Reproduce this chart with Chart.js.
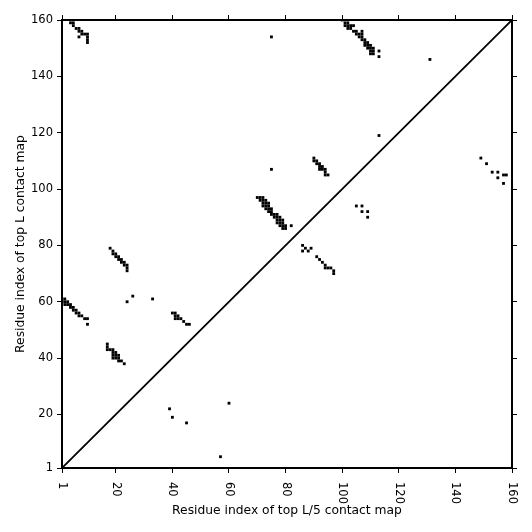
<!DOCTYPE html>
<html>
<head>
<meta charset="utf-8">
<script src="https://cdn.jsdelivr.net/npm/chart.js@4"></script>
<style>
    html, body { margin: 0; padding: 0; background: #fff; }
    #wrap { width: 532px; height: 532px; }
</style>
</head>
<body>
<div id="wrap"><canvas id="contactMap"></canvas></div>
<script>
// residue pairs above the diagonal
const upperI = [4, 5, 5, 6, 7, 7, 8, 7, 8, 9, 10, 10, 10, 10,
    75,
    100, 101, 102, 101, 102, 103, 104, 102, 103, 104, 105, 105, 106, 107, 106, 107, 107, 108, 108, 109, 108, 109, 110, 109, 110, 111, 110, 111, 110, 111, 113, 113, 107,
    131, 113,
    149, 151, 153, 155, 155, 157, 158, 157,
    70, 71, 72, 71, 72, 73, 72, 73, 74, 72, 73, 74, 73, 74, 75, 74, 75, 75, 76, 77, 76, 77, 78, 77, 78, 79, 77, 78, 79, 78, 79, 80, 79, 80, 82, 75,
    90, 90, 91, 91, 92, 92, 93, 92, 93, 94, 94, 94, 95,
    105, 107, 107, 109, 109]
const upperJ = [159, 158, 159, 157, 157, 156, 156, 154, 155, 155, 155, 154, 153, 152,
    154,
    160, 159, 159, 158, 158, 158, 158, 157, 157, 156, 156, 155, 155, 155, 154, 154, 153, 153, 152, 152, 151, 151, 151, 150, 150, 150, 149, 149, 148, 148, 149, 147, 156,
    146, 119,
    111, 109, 106, 106, 104, 105, 105, 102,
    97, 97, 97, 96, 96, 96, 95, 95, 95, 94, 94, 94, 93, 93, 93, 92, 92, 91, 91, 91, 90, 90, 90, 89, 89, 89, 88, 88, 88, 87, 87, 87, 86, 86, 87, 107,
    111, 110, 110, 109, 109, 108, 108, 107, 107, 107, 106, 105, 105,
    94, 94, 92, 92, 90]

// residue pairs below the diagonal
const lowerI = [18, 19, 19, 20, 20, 21, 21, 22, 22, 23, 23, 24, 24, 24,
    24, 26, 33,
    1, 2, 1, 2, 3, 2, 3, 4, 4, 5, 5, 6, 6, 7, 7, 8, 9, 10, 10,
    17, 17, 17, 18, 19, 19, 20, 19, 20, 21, 19, 20, 21, 21, 22, 23,
    40, 41, 41, 42, 41, 42, 43, 44, 45, 46,
    86, 86, 87, 88, 89, 91, 92, 93, 94, 94, 95, 96, 97, 97,
    39, 40, 45, 60, 57]
const lowerJ = [79, 78, 77, 77, 76, 76, 75, 75, 74, 74, 73, 73, 72, 71,
    60, 62, 61,
    61, 61, 60, 60, 60, 59, 59, 59, 58, 58, 57, 57, 56, 56, 55, 55, 54, 54, 52,
    45, 44, 43, 43, 43, 42, 42, 41, 41, 41, 40, 40, 40, 39, 39, 38,
    56, 56, 55, 55, 54, 54, 54, 53, 52, 52,
    80, 78, 79, 78, 79, 76, 75, 74, 73, 72, 72, 72, 71, 70,
    22, 19, 17, 24, 5]

const tickValues = [1, 20, 40, 60, 80, 100, 120, 140, 160]
const tickLabels = ['1', '20', '40', '60', '80', '100', '120', '140', '160']

const FONT = { family: 'DejaVu Sans', size: 11.5, lineHeight: 1.2 }
const TITLE_FONT = { family: 'DejaVu Sans', size: 12.3, lineHeight: 1.2 }

const toPoints = (xs, ys) => xs.map((x, k) => ({ x: x, y: ys[k] }))
const setTicks = scale => { scale.ticks = tickValues.map(v => ({ value: v })) }

// x tick labels are turned clockwise, so draw them by hand
const rotatedXLabels = {
    id: 'rotatedXLabels',
    afterDraw(chart) {
        const ctx = chart.ctx
        const xs = chart.scales.x
        ctx.save()
        ctx.fillStyle = '#000'
        ctx.font = `${FONT.size}px ${FONT.family}`
        ctx.textAlign = 'left'
        ctx.textBaseline = 'middle'
        tickValues.forEach((v, k) => {
            ctx.save()
            ctx.translate(xs.getPixelForValue(v), xs.top + 14)
            ctx.rotate(Math.PI / 2)
            ctx.fillText(tickLabels[k], 0, 0)
            ctx.restore()
        })
        ctx.restore()
    }
}

const cellStyle = {
    type: 'scatter',
    pointStyle: 'rect',
    pointRadius: 2,
    pointHoverRadius: 2,
    pointBorderWidth: 0,
    backgroundColor: '#000',
    borderColor: '#000',
    clip: 0
}

const edgeGrid = { drawOnChartArea: false, drawTicks: true, tickLength: 5, color: '#000', lineWidth: 1 }
const edgeBorder = { display: true, color: '#000', width: 2 }

const ctx = document.getElementById('contactMap').getContext('2d')
const contactChart = new Chart(ctx, {
    data: {
        datasets: [
            Object.assign({ label: 'above', data: toPoints(upperI, upperJ) }, cellStyle),
            Object.assign({ label: 'below', data: toPoints(lowerI, lowerJ) }, cellStyle),
            {
                type: 'line',
                label: 'diagonal',
                data: [{ x: 1, y: 1 }, { x: 160, y: 160 }],
                borderColor: '#000',
                borderWidth: 1.8,
                pointRadius: 0,
                fill: false
            }
        ]
    },
    options: {
        responsive: true,
        maintainAspectRatio: false,
        animation: false,
        layout: { padding: 0 },
        plugins: {
            legend: { display: false },
            tooltip: { enabled: false }
        },
        scales: {
            x: {
                type: 'linear', position: 'bottom', min: 1, max: 160,
                afterBuildTicks: setTicks,
                afterFit: s => { s.height = 64 },
                ticks: { display: false },
                grid: edgeGrid, border: edgeBorder,
                title: {
                    display: true, text: 'Residue index of top L/5 contact map',
                    color: '#000', font: TITLE_FONT, padding: { top: 0, bottom: 14 }
                }
            },
            x2: {
                type: 'linear', position: 'top', min: 1, max: 160,
                afterBuildTicks: setTicks,
                afterFit: s => { s.height = 20 },
                ticks: { display: false },
                grid: edgeGrid, border: edgeBorder
            },
            y: {
                type: 'linear', position: 'left', min: 1, max: 160,
                afterBuildTicks: setTicks,
                afterFit: s => { s.width = 62 },
                ticks: {
                    color: '#000', font: FONT, padding: 4,
                    callback: v => tickLabels[tickValues.indexOf(v)]
                },
                grid: edgeGrid, border: edgeBorder,
                title: {
                    display: true, text: 'Residue index of top L contact map',
                    color: '#000', font: TITLE_FONT, padding: { top: 13, bottom: 0 }
                }
            },
            y2: {
                type: 'linear', position: 'right', min: 1, max: 160,
                afterBuildTicks: setTicks,
                afterFit: s => { s.width = 20 },
                ticks: { display: false },
                grid: edgeGrid, border: edgeBorder
            }
        }
    },
    plugins: [rotatedXLabels]
})
</script>
</body>
</html>
